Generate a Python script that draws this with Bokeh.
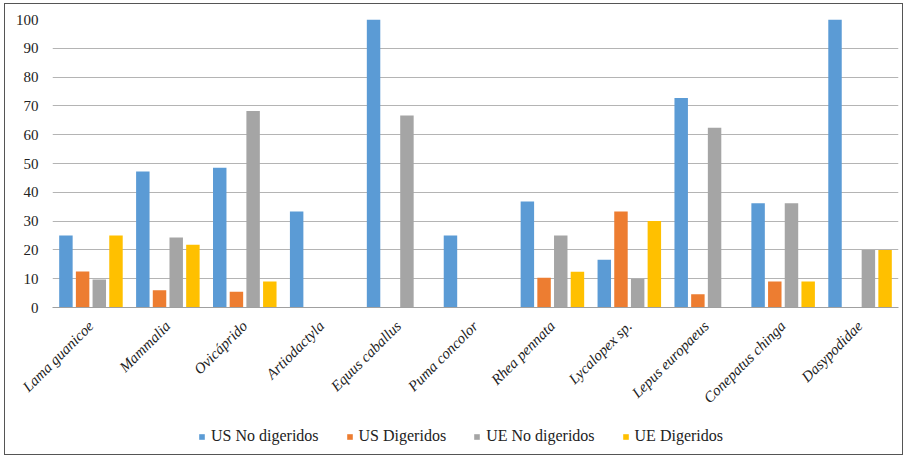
import math
from bokeh.plotting import figure
from bokeh.models import ColumnDataSource, FactorRange, Range1d, Legend, LegendItem
from bokeh.layouts import column
from bokeh.transform import dodge
from bokeh.embed import file_html
from bokeh.resources import INLINE

nan = float("nan")

categories = ["Lama guanicoe", "Mammalia", "Ovicáprido", "Artiodactyla", "Equus caballus",
              "Puma concolor", "Rhea pennata", "Lycalopex sp.", "Lepus europaeus",
              "Conepatus chinga", "Dasypodidae"]
us_no_digeridos = [25.0, 47.2, 48.5, 33.3, 100.0, 25.0, 36.8, 16.6, 72.7, 36.2, 100.0]
us_digeridos    = [12.5, 6.0, 5.5, nan, nan, nan, 10.3, 33.3, 4.6, 9.0, nan]
ue_no_digeridos = [9.7, 24.3, 68.2, nan, 66.7, nan, 25.0, 10.0, 62.4, 36.2, 20.0]
ue_digeridos    = [25.0, 21.8, 9.0, nan, nan, nan, 12.4, 30.0, nan, 9.0, 20.0]
series_names = ["US No digeridos", "US Digeridos", "UE No digeridos", "UE Digeridos"]
y_ticks = [0, 10, 20, 30, 40, 50, 60, 70, 80, 90, 100]

colors = ["#5B9BD5", "#ED7D31", "#A5A5A5", "#FFC000"]
keys = ["usn", "usd", "uen", "ued"]
FONT = "Liberation Serif"

source = ColumnDataSource(data=dict(cat=categories, usn=us_no_digeridos, usd=us_digeridos,
                                    uen=ue_no_digeridos, ued=ue_digeridos))

p = figure(x_range=FactorRange(*categories), y_range=Range1d(0, 100),
           width=897, height=410, output_backend="svg", toolbar_location=None,
           min_border_left=47, min_border_right=4, min_border_top=15, min_border_bottom=105)

pitch = 0.217
width = 0.175
for i, (k, c) in enumerate(zip(keys, colors)):
    p.vbar(x=dodge("cat", (i - 1.5) * pitch, range=p.x_range), top=k, width=width,
           source=source, fill_color=c, line_color=None)

p.outline_line_color = None
p.xgrid.grid_line_color = None
p.ygrid.grid_line_color = "#B4B4B4"
p.ygrid.grid_line_width = 1.2
p.yaxis.ticker = y_ticks
p.yaxis.axis_line_color = None
p.yaxis.major_tick_line_color = None
p.yaxis.minor_tick_line_color = None
p.yaxis.major_label_text_font = FONT
p.yaxis.major_label_text_font_size = "15px"
p.yaxis.major_label_text_color = "#222222"
p.yaxis.major_label_standoff = 8

p.xaxis.axis_line_color = "#A0A0A0"
p.xaxis.axis_line_width = 1.2
p.xaxis.major_tick_line_color = None
p.xaxis.minor_tick_line_color = None
p.xaxis.major_label_orientation = math.pi / 4
p.xaxis.major_label_text_font = FONT
p.xaxis.major_label_text_font_style = "italic"
p.xaxis.major_label_text_font_size = "15px"
p.xaxis.major_label_text_color = "#222222"
p.xaxis.major_label_standoff = 10
p.x_range.range_padding = 0
p.x_range.group_padding = 0

# legend strip (bars of the same data fall outside its y range, only the legend shows)
lg = figure(x_range=FactorRange(*categories), y_range=Range1d(1000, 1001),
            width=897, height=40, output_backend="svg", toolbar_location=None,
            min_border=0, min_border_left=0, min_border_right=0, min_border_top=0,
            min_border_bottom=0)
lg.axis.visible = False
lg.grid.grid_line_color = None
lg.outline_line_color = None
items = []
for i, (k, c, n) in enumerate(zip(keys, colors, series_names)):
    r = lg.vbar(x=dodge("cat", (i - 1.5) * pitch, range=lg.x_range), top=k, width=width,
                source=source, fill_color=c, line_color=None)
    items.append(LegendItem(label=n, renderers=[r]))
legend = Legend(items=items, orientation="horizontal", location=(146, 9),
                label_text_font=FONT, label_text_font_size="16px", label_text_color="#222222",
                glyph_width=7, glyph_height=7, label_standoff=6, spacing=27,
                border_line_color=None, background_fill_alpha=0, padding=2, margin=0)
lg.add_layout(legend, "center")

layout = column(p, lg, spacing=0,
                styles={"border": "1px solid #555555", "margin-left": "4px", "margin-top": "3px"})

open("out.html", "w").write(file_html(layout, INLINE))
